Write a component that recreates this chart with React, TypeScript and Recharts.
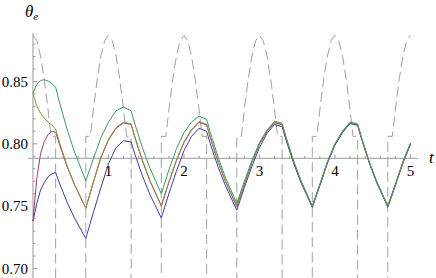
import React from 'react';
import { LineChart, Line, XAxis, YAxis, ReferenceLine, ReferenceDot } from 'recharts';

// time grid shared by the four coloured series
const tGrid = [
  0, 0.05, 0.1, 0.15, 0.2, 0.25, 0.3,
  0.35, 0.45, 0.55, 0.7,
  0.8, 0.9, 1.0, 1.1, 1.2, 1.3,
  1.35, 1.45, 1.55, 1.7,
  1.8, 1.9, 2.0, 2.1, 2.2, 2.3,
  2.35, 2.45, 2.55, 2.7,
  2.8, 2.9, 3.0, 3.1, 3.2, 3.3,
  3.35, 3.45, 3.55, 3.7,
  3.8, 3.9, 4.0, 4.1, 4.2, 4.3,
  4.35, 4.45, 4.55, 4.7,
  4.8, 4.9, 5.0,
];

const blueSeries = [
  0.738, 0.752, 0.763, 0.769, 0.7735, 0.776, 0.777,
  0.7686, 0.7534, 0.7404, 0.7242,
  0.745, 0.765, 0.784, 0.797, 0.8025, 0.8015,
  0.7917, 0.7743, 0.7592, 0.7405,
  0.76, 0.778, 0.7945, 0.806, 0.8125, 0.81,
  0.7999, 0.7818, 0.7663, 0.7469,
  0.765, 0.782, 0.797, 0.8085, 0.8155, 0.8138,
  0.8034, 0.7849, 0.7689, 0.749,
  0.7665, 0.7845, 0.799, 0.809, 0.8163, 0.8148,
  0.8043, 0.7855, 0.7693, 0.7492,
  0.7665, 0.7845, 0.7995,
];

const redSeries = [
  0.738, 0.772, 0.792, 0.802, 0.8075, 0.8098, 0.8095,
  0.7997, 0.7822, 0.7671, 0.7483,
  0.769, 0.789, 0.803, 0.8125, 0.8168, 0.8155,
  0.805, 0.7862, 0.7701, 0.75,
  0.769, 0.7865, 0.801, 0.811, 0.8172, 0.8152,
  0.8047, 0.7859, 0.7697, 0.7496,
  0.7675, 0.785, 0.7995, 0.8098, 0.8168, 0.8152,
  0.8047, 0.7859, 0.7697, 0.7496,
  0.767, 0.785, 0.7995, 0.8095, 0.8168, 0.8153,
  0.8048, 0.786, 0.7698, 0.7497,
  0.767, 0.785, 0.8,
];

const yellowSeries = [
  0.8405, 0.8305, 0.8245, 0.8205, 0.8175, 0.815, 0.812,
  0.8015, 0.7828, 0.7674, 0.7486,
  0.7696, 0.7896, 0.8036, 0.8131, 0.8174, 0.8161,
  0.8056, 0.7868, 0.7707, 0.7506,
  0.7696, 0.7871, 0.8016, 0.8116, 0.8178, 0.8158,
  0.8053, 0.7865, 0.7703, 0.7502,
  0.7681, 0.7856, 0.8001, 0.8104, 0.8174, 0.8158,
  0.8053, 0.7865, 0.7703, 0.7502,
  0.7676, 0.7856, 0.8001, 0.8101, 0.8174, 0.8159,
  0.8054, 0.7866, 0.7704, 0.7503,
  0.7676, 0.7856, 0.8006,
];

const greenSeries = [
  0.8405, 0.8478, 0.8508, 0.8515, 0.8503, 0.8483, 0.8455,
  0.8335, 0.812, 0.7935, 0.7704,
  0.788, 0.805, 0.8175, 0.8265, 0.8295, 0.8265,
  0.8159, 0.7968, 0.7804, 0.76,
  0.779, 0.796, 0.809, 0.8175, 0.8222, 0.8198,
  0.809, 0.7897, 0.773, 0.7523,
  0.77, 0.7865, 0.801, 0.811, 0.8182, 0.8165,
  0.8057, 0.7867, 0.7704, 0.75,
  0.7675, 0.7855, 0.8, 0.81, 0.8172, 0.8157,
  0.8051, 0.7862, 0.77, 0.7499,
  0.7675, 0.7855, 0.8005,
];

// dashed reference curve (drops far below the plot between caps)
const dashT = [
  0, 0.05, 0.1, 0.15, 0.2, 0.24, 0.3, 0.3,
  0.7, 0.7, 0.76, 0.8, 0.85, 0.9, 0.95, 1.0, 1.05, 1.1, 1.15, 1.2, 1.24, 1.3, 1.3,
  1.7, 1.7, 1.76, 1.8, 1.85, 1.9, 1.95, 2.0, 2.05, 2.1, 2.15, 2.2, 2.24, 2.3, 2.3,
  2.7, 2.7, 2.76, 2.8, 2.85, 2.9, 2.95, 3.0, 3.05, 3.1, 3.15, 3.2, 3.24, 3.3, 3.3,
  3.7, 3.7, 3.76, 3.8, 3.85, 3.9, 3.95, 4.0, 4.05, 4.1, 4.15, 4.2, 4.24, 4.3, 4.3,
  4.7, 4.7, 4.76, 4.8, 4.85, 4.9, 4.95, 5.0,
];
const dashV = [
  0.887, 0.8828, 0.8705, 0.8514, 0.8273, 0.806, 0.806, 0.6,
  0.6, 0.806, 0.806, 0.8273, 0.8514, 0.8705, 0.8828, 0.887, 0.8828, 0.8705, 0.8514, 0.8273, 0.806, 0.806, 0.6,
  0.6, 0.806, 0.806, 0.8273, 0.8514, 0.8705, 0.8828, 0.887, 0.8828, 0.8705, 0.8514, 0.8273, 0.806, 0.806, 0.6,
  0.6, 0.806, 0.806, 0.8273, 0.8514, 0.8705, 0.8828, 0.887, 0.8828, 0.8705, 0.8514, 0.8273, 0.806, 0.806, 0.6,
  0.6, 0.806, 0.806, 0.8273, 0.8514, 0.8705, 0.8828, 0.887, 0.8828, 0.8705, 0.8514, 0.8273, 0.806, 0.806, 0.6,
  0.6, 0.806, 0.806, 0.8273, 0.8514, 0.8705, 0.8828, 0.887,
];

const xMajorTicks = [1, 2, 3, 4, 5];
const xMinorTicks = [0.2, 0.4, 0.6, 0.8, 1.2, 1.4, 1.6, 1.8, 2.2, 2.4, 2.6, 2.8, 3.2, 3.4, 3.6, 3.8, 4.2, 4.4, 4.6, 4.8];
const yMajorTicks = [0.7, 0.75, 0.8, 0.85];
const yMajorLabels = ['0.70', '0.75', '0.80', '0.85'];
const yMinorTicks = [0.71, 0.72, 0.73, 0.74, 0.76, 0.77, 0.78, 0.79, 0.81, 0.82, 0.83, 0.84, 0.86, 0.87, 0.88];

const AXIS_Y = 0.7884;
const X_MIN = -0.066;
const X_MAX = 5.1;
const Y_MIN = 0.6924;
const Y_MAX = 0.8889;

const data = tGrid.map((t, i) => ({
  t,
  blue: blueSeries[i],
  red: redSeries[i],
  yellow: yellowSeries[i],
  green: greenSeries[i],
}));
const dashData = dashT.map((t, i) => ({ t, v: dashV[i] }));

const AXIS_COLOR = '#999999';
const FONT = 'Liberation Serif';

const XTick = ({ cx, cy, major, label }: any) => (
  <g>
    <line x1={cx} y1={cy} x2={cx} y2={cy - (major ? 4 : 2.5)} stroke={AXIS_COLOR} strokeWidth={1} />
    {label ? (
      <text x={cx} y={cy + 18} textAnchor="middle" fontSize={15} style={{ fontFamily: FONT }} fill="#000">
        {label}
      </text>
    ) : null}
  </g>
);

const YTick = ({ cx, cy, major, label }: any) => (
  <g>
    <line x1={cx} y1={cy} x2={cx + (major ? 4.5 : 2.5)} y2={cy} stroke={AXIS_COLOR} strokeWidth={1} />
    {label ? (
      <text x={cx - 5} y={cy + 5} textAnchor="end" fontSize={15} style={{ fontFamily: FONT }} fill="#000">
        {label}
      </text>
    ) : null}
  </g>
);

const ThetaLabel = ({ cx, cy }: any) => (
  <text x={cx - 8} y={cy - 16} style={{ fontFamily: FONT }} fill="#000">
    <tspan fontSize={17} fontStyle="italic">θ</tspan>
    <tspan fontSize={11} fontStyle="italic" dy={3}>e</tspan>
  </text>
);

const TLabel = ({ cx, cy }: any) => (
  <text x={cx + 11} y={cy + 5} fontSize={17} fontStyle="italic" style={{ fontFamily: FONT }} fill="#000">
    t
  </text>
);

export default function App() {
  return (
    <div style={{ position: 'absolute', left: 0, top: 0, width: 436, height: 278, background: '#fff' }}>
      <LineChart width={436} height={278} data={data} margin={{ top: 33, right: 18, bottom: 0, left: 28 }}>
        <XAxis dataKey="t" type="number" domain={[X_MIN, X_MAX]} allowDataOverflow hide />
        <YAxis type="number" domain={[Y_MIN, Y_MAX]} allowDataOverflow hide />

        <ReferenceLine segment={[{ x: X_MIN, y: AXIS_Y }, { x: X_MAX, y: AXIS_Y }]} stroke={AXIS_COLOR} strokeWidth={1} />
        <ReferenceLine segment={[{ x: 0, y: Y_MIN }, { x: 0, y: Y_MAX }]} stroke={AXIS_COLOR} strokeWidth={1} />

        {xMinorTicks.map((t) => (
          <ReferenceDot key={'xm' + t} x={t} y={AXIS_Y} r={0} shape={(p: any) => <XTick {...p} major={false} />} />
        ))}
        {xMajorTicks.map((t) => (
          <ReferenceDot key={'xM' + t} x={t} y={AXIS_Y} r={0} shape={(p: any) => <XTick {...p} major label={String(t)} />} />
        ))}
        {yMinorTicks.map((v) => (
          <ReferenceDot key={'ym' + v} x={0} y={v} r={0} shape={(p: any) => <YTick {...p} major={false} />} />
        ))}
        {yMajorTicks.map((v, i) => (
          <ReferenceDot key={'yM' + v} x={0} y={v} r={0} shape={(p: any) => <YTick {...p} major label={yMajorLabels[i]} />} />
        ))}
        <ReferenceDot x={0} y={Y_MAX} r={0} ifOverflow="visible" shape={(p: any) => <ThetaLabel {...p} />} />
        <ReferenceDot x={X_MAX} y={AXIS_Y} r={0} ifOverflow="visible" shape={(p: any) => <TLabel {...p} />} />

        <Line data={dashData} dataKey="v" type="linear" stroke="#a0a0a0" strokeWidth={1} strokeDasharray="10 5" dot={false} activeDot={false} isAnimationActive={false} />
        <Line dataKey="blue" type="linear" stroke="#3f3d99" strokeWidth={1} dot={false} activeDot={false} isAnimationActive={false} />
        <Line dataKey="red" type="linear" stroke="#993d74" strokeWidth={1} dot={false} activeDot={false} isAnimationActive={false} />
        <Line dataKey="yellow" type="linear" stroke="#99903d" strokeWidth={1} dot={false} activeDot={false} isAnimationActive={false} />
        <Line dataKey="green" type="linear" stroke="#3d9962" strokeWidth={1} dot={false} activeDot={false} isAnimationActive={false} />
      </LineChart>
    </div>
  );
}
